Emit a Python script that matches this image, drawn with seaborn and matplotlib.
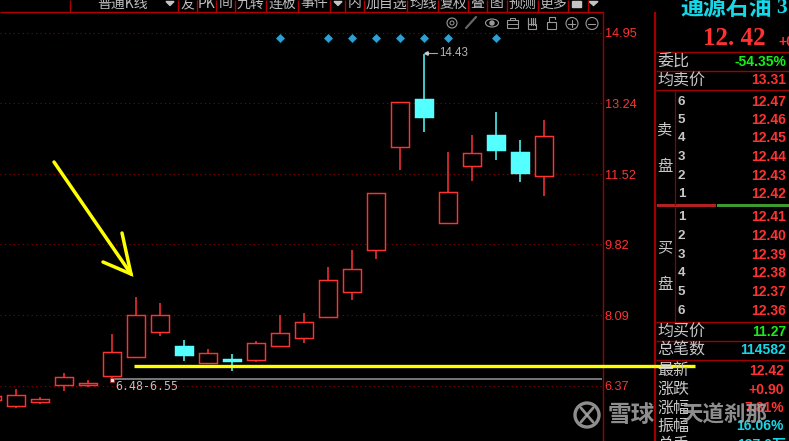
import matplotlib
matplotlib.use("Agg")
import matplotlib.pyplot as plt
import seaborn as sns
import pandas as pd
import numpy as np
from matplotlib.patches import Circle, Ellipse, Rectangle

sns.set_theme(style="dark")
plt.rcParams['font.family'] = ['Noto Sans CJK SC', 'DejaVu Sans']

RED = '#FF3232'
CYAN = '#54FFFF'
DARK = '#8E0000'
GREY = '#C4C4C4'
YEL = '#FFFF00'

# --- data -------------------------------------------------------------
index = list(range(-1, 23))
highs = [6.15, 6.30, 6.10, 6.69, 6.52, 7.63, 8.53, 8.39, 7.49, 7.27, 7.15, 7.46, 8.10, 8.14,
         9.26, 9.68, 11.05, 13.27, 14.43, 12.06, 12.47, 13.03, 12.35, 12.84]
tops = [6.12, 6.14, 6.05, 6.58, 6.44, 7.19, 8.09, 8.09, 7.34, 7.16, 7.03, 7.41, 7.65, 7.92,
        8.94, 9.21, 11.05, 13.27, 13.35, 11.08, 12.03, 12.47, 12.06, 12.44]
bottoms = [6.02, 5.89, 5.99, 6.40, 6.40, 6.62, 7.08, 7.69, 7.12, 6.94, 6.98, 7.01, 7.35, 7.54,
           8.05, 8.65, 9.68, 12.19, 12.91, 10.34, 11.72, 12.11, 11.55, 11.48]
lows = [6.00, 5.83, 5.93, 6.25, 6.35, 6.52, 7.08, 7.59, 6.98, 6.90, 6.73, 6.95, 7.32, 7.41,
        8.02, 8.46, 9.46, 11.62, 12.54, 10.34, 11.36, 11.86, 11.33, 10.99]
falling = [17, 20, 21, 7, 9]
marker_index = [11, 13, 14, 15, 16, 17, 18, 20]
marker_price = [14.83] * 8
price_ticks = [6.37, 8.09, 9.82, 11.52, 13.24, 14.95]
tick_labels = ['6.37', '8.09', '9.82', '11.52', '13.24', '14.95']
header_items = [('普通K线', 123), ('友', 187.5), ('PK', 206.5), ('间', 225.5), ('九转', 250.5),
                ('连板', 282), ('事件', 314), ('内', 354.5), ('加自选', 386), ('均线', 423),
                ('复权', 453), ('叠', 477.5), ('图', 497), ('预测', 522.5), ('更多', 553)]
header_lines = [70, 178, 197, 216, 235, 266, 298, 330, 345, 364, 407, 438, 468, 487, 507, 538, 568, 588]
ask_prices = ['12.47', '12.46', '12.45', '12.44', '12.43', '12.42']
ask_levels = ['6', '5', '4', '3', '2', '1']
bid_prices = ['12.41', '12.40', '12.39', '12.38', '12.37', '12.36']
bid_levels = ['1', '2', '3', '4', '5', '6']
ask_y = [102, 120, 138, 157, 176, 194]
bid_y = [217, 236, 255, 273, 292, 311]

W, H = 789, 441
fig = plt.figure(figsize=(W / 100, H / 100), dpi=100, facecolor='black')

# --- main price axes --------------------------------------------------
ax = fig.add_axes([0, 0, 603 / W, (H - 12) / H], facecolor='black')
ax.set_xlim(-16.3 / 24, (603 - 16.3) / 24)
ax.set_ylim(14.95 - 408 / 41.14, 14.95 + 21 / 41.14)
ax.set_xticks([])
ax.yaxis.tick_right()
ax.set_yticks(price_ticks)
ax.set_yticklabels(tick_labels, color=RED, fontsize=9.2, family='Liberation Sans')
ax.tick_params(axis='y', length=0, pad=1.2)
ax.grid(True, axis='y', color=DARK, lw=0.8, ls=(0, (1, 3)))
ax.grid(False, axis='x')
ax.set_axisbelow(True)
for s in ['left', 'top', 'bottom']:
    ax.spines[s].set_visible(False)
ax.spines['right'].set_color('#A00000')
ax.spines['right'].set_linewidth(1.0)

df = pd.DataFrame(dict(i=index, high=highs, top=tops, bottom=bottoms, low=lows))
df['down'] = df.i.isin(falling)
for _, r in df.iterrows():
    c = CYAN if r.down else RED
    ax.vlines(r.i, r.top, r.high, color=c, lw=1.1, zorder=3)
    ax.vlines(r.i, r.low, r.bottom, color=c, lw=1.1, zorder=3)
    ax.bar(r.i, r.top - r.bottom, bottom=r.bottom, width=0.75,
           facecolor=c if r.down else 'black', edgecolor=c, lw=1.05, zorder=4)

sns.scatterplot(x=marker_index, y=marker_price, marker='D', s=21, color='#2E9FCF',
                linewidth=0, ax=ax, zorder=5, legend=False)
ax.set_xlabel('')
ax.set_ylabel('')

# --- overlay in pixel coordinates ------------------------------------
ov = fig.add_axes([0, 0, 1, 1], facecolor='none')
ov.set_xlim(0, W)
ov.set_ylim(H, 0)
ov.axis('off')

def T(x, y, s, c=GREY, fs=10, ha='left', fam=None, w='normal', alpha=None, z=6):
    kw = {}
    if fam:
        kw['family'] = fam
    ov.text(x, y, s, color=c, fontsize=fs, ha=ha, va='center', fontweight=w, alpha=alpha,
            zorder=z, clip_on=True, **kw)

# header
ov.hlines(12, 0, 603, color='#B00000', lw=1.0)
ov.vlines(header_lines, 0, 12, color='#B00000', lw=1.0)
for s, x in header_items:
    T(x, 3.5, s, fs=10, ha='center', c='#BEBEBE')
ov.fill([166, 174, 170], [1.5, 1.5, 5.5], color=GREY)
ov.fill([334, 342, 338], [1.5, 1.5, 5.5], color=GREY)
ov.fill([589, 598, 593.5], [1.5, 1.5, 5.5], color=GREY)
ov.add_patch(Rectangle((572, 1), 9, 6, color=GREY))

# toolbar icons
ic = '#9A9A9A'
ov.add_patch(Circle((452, 23), 5, fill=False, ec=ic, lw=0.8))
ov.add_patch(Circle((452, 23), 2, fill=False, ec=ic, lw=0.7))
ov.plot([466, 476], [28, 17], color='#666666', lw=1.6)
ov.add_patch(Ellipse((492, 23), 13, 8, fill=False, ec=ic, lw=0.8))
ov.add_patch(Circle((492, 23), 2, color=ic))
ov.add_patch(Rectangle((507, 20), 11, 8, fill=False, ec=ic, lw=0.8))
ov.plot([507, 518], [23.5, 23.5], color=ic, lw=0.7)
ov.add_patch(Rectangle((510, 17.5), 5, 2.5, fill=False, ec=ic, lw=0.7))
for hx in [528.5, 530.8, 533, 535.2]:
    ov.plot([hx, hx], [18, 25], color=ic, lw=0.9)
ov.add_patch(Rectangle((528, 24), 8, 5, fill=False, ec=ic, lw=0.8))
ov.add_patch(Rectangle((547.5, 22), 9, 7, fill=False, ec=ic, lw=0.8))
ov.plot([549, 549, 555, 555], [22, 17, 17, 19], color=ic, lw=0.8)
for cx in [572, 592]:
    ov.add_patch(Circle((cx, 23.5), 6, fill=False, ec=ic, lw=0.8))
    ov.plot([cx - 3.5, cx + 3.5], [23.5, 23.5], color=ic, lw=0.8)
ov.plot([572, 572], [20, 27], color=ic, lw=0.8)

# high price label
ov.plot([425, 437], [53, 53], color='#AAAAAA', lw=0.8)
ov.plot([426], [53], marker='<', ms=2.5, color='#CCCCCC')
T(439, 52.5, '14.43', fs=8.3, c='#B4B4B4', fam='Liberation Sans')

# low-range marker and yellow annotations
ov.hlines(379, 112, 602.5, color='#808080', lw=1.3, zorder=3)
ov.plot([112], [379.5], marker='s', ms=2.4, mfc='#DDDDDD', mec='#A03030', mew=0.6, zorder=4)
T(115, 386.5, '6.48-6.55', fs=8.4, c='#BDBDBD', fam='DejaVu Sans Mono')
ov.hlines(365.5, 134, 695, color=YEL, lw=2.4, zorder=5)
ov.plot([54, 131], [162, 274], color=YEL, lw=2.5, zorder=5, solid_capstyle='round')
ov.plot([122, 131, 103], [233, 274, 262], color=YEL, lw=2.5, zorder=5, solid_joinstyle='miter')

# right panel frame
ov.vlines(655.5, 12, H, color='#A00000', lw=1.6)
ov.vlines(675.5, 91, 205, color='#8E0000', lw=0.9)
ov.vlines(675.5, 207, 322, color='#8E0000', lw=0.9)
ov.hlines([52, 71, 90, 322, 341, 360], 656, W, color='#A00000', lw=1.0)
ov.add_patch(Rectangle((657, 204), 59, 3.4, color='#B22222', lw=0))
ov.add_patch(Rectangle((717, 204), 72, 3.4, color='#3C9A2E', lw=0))

T(680, 8, '通源石油', c='#14D8E8', fs=16.5, w='bold')
T(776, 8, '3', c='#14D8E8', fs=15.5, w='bold', fam='Liberation Serif')
T(703, 38.5, '12. 42', c=RED, fs=18, w='bold', fam='Liberation Serif')
T(778, 42, '+0', c=RED, fs=10, w='bold', fam='Liberation Sans')

for s, y in [('委比', 62), ('均卖价', 80.5), ('均买价', 331.5), ('总笔数', 350.5), ('最新', 371),
             ('涨跌', 389.5), ('涨幅', 408), ('振幅', 426), ('总手', 445)]:
    T(657, y, s, fs=11.5, c='#C8C8C8')
for s, y in [('卖', 130), ('盘', 167), ('买', 248), ('盘', 284)]:
    T(665, y, s, fs=11, ha='center', c='#C8C8C8')
for s, y in zip(ask_levels + bid_levels, ask_y + bid_y):
    T(678, y, s, fs=9.6, c='#C8C8C8', w='bold', fam='Liberation Sans')
for s, y in zip(ask_prices + bid_prices, ask_y + bid_y):
    T(786, y, s, fs=10, c=RED, ha='right', w='bold', fam='Liberation Sans')

rows = [('-54.35%', 62, '#14F014', 786), ('13.31', 80.5, RED, 786), ('11.27', 331.5, '#14F014', 786),
        ('114582', 350.5, '#14D8E8', 786), ('12.42', 371, RED, 784), ('+0.90', 389.5, RED, 784),
        ('7.81%', 408, RED, 784), ('16.06%', 426, '#14D8E8', 784), ('137.0万', 445, '#14D8E8', 786)]
for s, y, c, x in rows:
    T(x, y, s, c=c, fs=10, ha='right', w='bold', fam=['Liberation Sans', 'Noto Sans CJK SC'])

# watermark
wm = '#A8A8A8'
ov.add_patch(Circle((587, 415), 12, fill=False, ec=wm, lw=2.4, alpha=0.85, zorder=7))
ov.plot([581, 587, 581], [408, 415, 422], color=wm, lw=2.0, alpha=0.85, zorder=7)
ov.plot([593, 587, 593], [408, 415, 422], color=wm, lw=2.0, alpha=0.85, zorder=7)
T(608, 415, '雪球', c=wm, fs=17, w='bold', alpha=0.85, z=7)
T(681, 415, '天道刹那', c=wm, fs=15.5, w='bold', alpha=0.85, z=7)

fig.savefig('out.png', dpi=100, facecolor='black')
